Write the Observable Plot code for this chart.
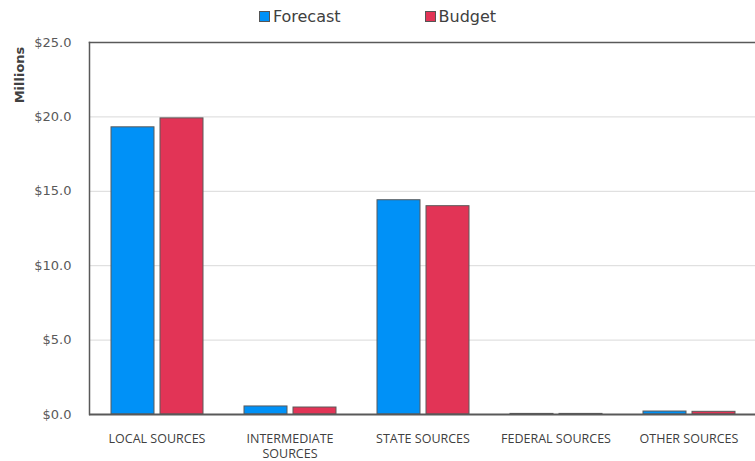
<!DOCTYPE html>
<html>
<head>
<meta charset="utf-8">
<script src="https://cdn.jsdelivr.net/npm/d3@7"></script>
<script src="https://cdn.jsdelivr.net/npm/@observablehq/plot@0.6"></script>
<style>
  html, body { margin: 0; padding: 0; background: #fff; }
  body { width: 755px; height: 461px; position: relative; overflow: hidden; font-family: "DejaVu Sans", sans-serif; }
  #legend { height: 30px; display: flex; justify-content: center; align-items: center; font-size: 16px; color: #404040; padding-top: 2px; box-sizing: border-box; }
  .item { display: flex; align-items: center; }
  .sw { width: 9px; height: 9px; border: 1px solid #555; margin-right: 3px; }
  #chart svg { display: block; }
</style>
</head>
<body>
<div id="legend"></div>
<div id="chart"></div>
<script>
const categories = ["LOCAL SOURCES", "INTERMEDIATE SOURCES", "STATE SOURCES", "FEDERAL SOURCES", "OTHER SOURCES"];
const categoryLabels = ["LOCAL SOURCES", "INTERMEDIATE\nSOURCES", "STATE SOURCES", "FEDERAL SOURCES", "OTHER SOURCES"];
const seriesNames = ["Forecast", "Budget"];
const seriesColors = ["#0091F7", "#E23456"];
const forecast = [19.3, 0.54, 14.4, 0.04, 0.2];
const budget = [19.9, 0.47, 14.0, 0.04, 0.18];
const yTicks = [0, 5, 10, 15, 20, 25];

const rows = categories.map((c, i) => ({category: c, forecast: forecast[i], budget: budget[i]}));

// legend
const legend = document.getElementById("legend");
seriesNames.forEach((s, i) => {
  const it = document.createElement("div");
  it.className = "item";
  if (i > 0) it.style.marginLeft = "84px";
  const sw = document.createElement("div");
  sw.className = "sw";
  sw.style.background = seriesColors[i];
  it.appendChild(sw);
  const t = document.createElement("span");
  t.textContent = s;
  it.appendChild(t);
  legend.appendChild(it);
});

const plot = Plot.plot({
  width: 755,
  height: 431,
  marginTop: 12,
  marginBottom: 47,
  marginLeft: 89,
  marginRight: 0,
  style: {fontFamily: "DejaVu Sans, sans-serif", fontSize: "13px", color: "#595959", background: "#fff"},
  x: {domain: categories, padding: 0, label: null},
  y: {domain: [0, 25], label: null},
  marks: [
    Plot.gridY(yTicks.filter(d => d > 0 && d < 25), {stroke: "#d9d9d9", strokeOpacity: 1}),
    Plot.barY(rows, {x: "category", y: "forecast", fill: seriesColors[0], stroke: "#5a5a5a", strokeWidth: 1, insetLeft: 21, insetRight: 69}),
    Plot.barY(rows, {x: "category", y: "budget", fill: seriesColors[1], stroke: "#5a5a5a", strokeWidth: 1, insetLeft: 70, insetRight: 20}),
    Plot.frame({anchor: "left", stroke: "#595959", strokeWidth: 1.5}),
    Plot.frame({anchor: "top", stroke: "#595959", strokeWidth: 1.5}),
    Plot.ruleY([0], {stroke: "#595959", strokeWidth: 2}),
    Plot.axisY({ticks: yTicks, tickSize: 0, tickPadding: 18, tickFormat: d => "$" + d.toFixed(1), fontSize: 13, fill: "#595959", fontFamily: "DejaVu Sans, sans-serif"}),
    Plot.axisX({tickSize: 0, tickPadding: 17, lineHeight: 1.25, tickFormat: d => categoryLabels[categories.indexOf(d)], fontSize: 12.5, fill: "#404040", fontFamily: "Open Sans, sans-serif"})
  ]
});
document.getElementById("chart").appendChild(plot);

// rotated y-axis title
d3.select(plot).append("text")
  .attr("transform", "translate(24,45) rotate(-90)")
  .attr("text-anchor", "middle")
  .attr("font-size", 13)
  .attr("font-weight", "bold")
  .attr("fill", "#404040")
  .attr("font-family", "DejaVu Sans, sans-serif")
  .text("Millions");
</script>
</body>
</html>
